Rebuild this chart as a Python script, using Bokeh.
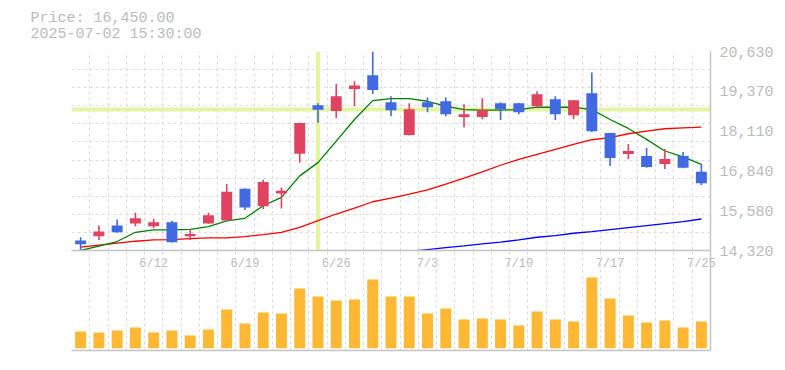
import numpy as np
from bokeh.plotting import figure
from bokeh.layouts import column
from bokeh.models import (Range1d, FixedTicker, NumeralTickFormatter,
                          Span, Title, ColumnDataSource)
from bokeh.embed import file_html
from bokeh.resources import INLINE

# ---------------- data ----------------
dates = ["6/6", "6/9", "6/10", "6/11", "6/12", "6/13", "6/16", "6/17", "6/18", "6/19",
         "6/20", "6/23", "6/24", "6/25", "6/26", "6/27", "6/30", "7/1", "7/2", "7/3",
         "7/4", "7/7", "7/8", "7/9", "7/10", "7/11", "7/14", "7/15", "7/16", "7/17",
         "7/18", "7/22", "7/23", "7/24", "7/25"]

open_ = [14635, 14770, 15110, 15180, 15085, 15215, 14770, 15180, 15275, 16275,
         15720, 16130, 17390, 18925, 18745, 19440, 19875, 19020, 17980, 19020,
         19050, 18550, 18550, 18990, 18990, 18895, 19115, 18610, 19305, 18045,
         17380, 17315, 17065, 17315, 16815]
high = [14740, 15110, 15300, 15520, 15330, 15265, 14995, 15520, 16425, 16290,
        16560, 16320, 18370, 18990, 19600, 19685, 20630, 19210, 18990, 19175,
        19175, 18960, 19145, 19020, 19000, 19370, 19210, 19095, 19965, 18050,
        17695, 17570, 17540, 17445, 17065]
low = [14320, 14655, 14880, 15085, 15025, 14570, 14655, 15170, 15265, 15605,
       15635, 15655, 17105, 18370, 18525, 18895, 19285, 18580, 17970, 18705,
       18580, 18230, 18485, 18455, 18640, 18830, 18455, 18485, 18075, 17000,
       17225, 16940, 16905, 16925, 16400]
close = [14520, 14920, 14900, 15340, 15215, 14585, 14845, 15435, 16180, 15685,
         16495, 16215, 18360, 18780, 19210, 19555, 19410, 18770, 18800, 18865,
         18640, 18640, 18770, 18800, 18705, 19275, 18640, 19085, 18105, 17255,
         17475, 16970, 17225, 16940, 16450]
volume = [167, 157, 177, 207, 157, 177, 127, 187, 387, 247,
          357, 347, 597, 517, 477, 487, 687, 517, 517, 347,
          397, 287, 297, 287, 227, 367, 287, 267, 707, 497,
          327, 257, 277, 207, 267]

ma_short = [14320, 14456, 14604, 14898, 14972, 14972, 14993, 15077, 15256, 15340,
            15740, 16003, 16686, 17107, 17790, 18474, 19073, 19137, 19137, 19052,
            18895, 18789, 18768, 18768, 18789, 18863, 18863, 18863, 18789, 18474,
            18190, 17843, 17475, 17286, 17054]
ma_mid = [14425, 14488, 14551, 14614, 14656, 14667, 14698, 14719, 14719, 14761,
          14825, 14898, 15056, 15266, 15477, 15666, 15866, 15981, 16108, 16244,
          16423, 16612, 16812, 17023, 17212, 17370, 17527, 17685, 17832, 17896,
          18022, 18106, 18180, 18211, 18232]
ma_long = [np.nan] * 18 + [14288, 14351, 14414, 14467, 14530, 14583, 14656, 14740,
                           14793, 14867, 14919, 14982, 15045, 15109, 15172, 15235, 15319]

tick_dates = ["6/12", "6/19", "6/26", "7/3", "7/10", "7/17", "7/25"]
y_ticks = [14320, 15580, 16840, 18110, 19370, 20630]

header_time = "2025-07-02 15:30:00"
cross_date = "6/25"
cross_price = 18789

# ---------------- styling / layout ----------------
RED = "#e0435f"
BLUE = "#4169e1"
VOL = "#ffb833"
GRAY_TXT = "#bbbbbb"
AXIS = "#c4c4c4"
GRID = "#dcdcdc"
CROSS = "#e4f4a2"
FONT = "Liberation Mono"

W = 777
B_LEFT, B_RIGHT = 71, 67
A_TOP, A_FRAME, A_BOTTOM = 50, 200, 25       # price figure
B_FRAME, B_BOTTOM = 100, 12                  # volume figure (overlaps label strip)
OVERLAP = A_BOTTOM

p_lo, p_hi = min(low), max(high)
vol_gap_px = 2.3
vpx = 10.0
v_start = -vol_gap_px * vpx
v_end = v_start + B_FRAME * vpx

x = list(range(len(dates)))
up = [c >= o for o, c in zip(open_, close)]
colors = [RED if u else BLUE for u in up]
src = ColumnDataSource(dict(
    x=x, open=open_, high=high, low=low, close=close, vol=volume,
    top=[max(o, c) for o, c in zip(open_, close)],
    bottom=[min(o, c) for o, c in zip(open_, close)],
    color=colors))
xr = Range1d(-0.5, len(dates) - 0.5)
boundaries = [i - 0.5 for i in range(len(dates) + 1)]

# ======== price figure ========
p = figure(width=W, height=A_TOP + A_FRAME + A_BOTTOM, output_backend="svg",
           toolbar_location=None, x_range=xr, y_range=Range1d(p_lo, p_hi),
           y_axis_location="right", min_border_left=B_LEFT, min_border_right=B_RIGHT,
           min_border_top=A_TOP, min_border_bottom=A_BOTTOM)
p.outline_line_color = None

p.xgrid.ticker = FixedTicker(ticks=boundaries)
p.xgrid.grid_line_color = GRID
p.xgrid.grid_line_dash = "3 3"
p.ygrid.ticker = FixedTicker(ticks=list(np.linspace(p_lo, p_hi, 12)))
p.ygrid.grid_line_color = GRID
p.ygrid.grid_line_dash = "3 3"

xa = p.xaxis[0]
xa.ticker = FixedTicker(ticks=[dates.index(d) for d in tick_dates])
xa.major_label_overrides = {dates.index(d): d for d in tick_dates}
xa.axis_line_color = AXIS
xa.axis_line_width = 1.5
xa.major_tick_line_color = None
xa.minor_tick_line_color = None
xa.major_tick_out = 0
xa.major_tick_in = 0
xa.major_label_standoff = 6
xa.major_label_text_font = FONT
xa.major_label_text_font_size = "12px"
xa.major_label_text_color = GRAY_TXT

ya = p.yaxis[0]
ya.ticker = FixedTicker(ticks=y_ticks)
ya.formatter = NumeralTickFormatter(format="0,0")
ya.major_tick_line_color = None
ya.minor_tick_line_color = None
ya.major_tick_out = 0
ya.major_tick_in = 0
ya.major_label_standoff = 9
ya.axis_line_color = AXIS
ya.axis_line_width = 1.5
ya.major_label_text_font = FONT
ya.major_label_text_font_size = "15px"
ya.major_label_text_color = GRAY_TXT

cx = dates.index(cross_date)
p.add_layout(Span(location=cross_price, dimension="width", line_color=CROSS,
                  line_width=4, level="underlay"))
p.add_layout(Span(location=cx, dimension="height", line_color=CROSS,
                  line_width=4, level="underlay"))

p.line(x, ma_long, line_color="#0000ff", line_width=1.3)
p.line(x, ma_mid, line_color="#ff0000", line_width=1.3)
p.line(x, ma_short, line_color="#008000", line_width=1.3)

p.segment(x0="x", y0="low", x1="x", y1="high", line_color="color", line_width=1.6, source=src)
p.vbar(x="x", top="top", bottom="bottom", width=0.6, source=src,
       fill_color="color", line_color=None)

p.title.text = ""
header = Title(text=f"Price: {close[-1]:,.2f}\n{header_time}", align="left",
               offset=30 - B_LEFT, standoff=16, text_line_height=0.97,
               text_font=FONT, text_font_size="15px", text_color=GRAY_TXT,
               text_font_style="normal")
p.add_layout(header, "above")

# ======== volume figure ========
v = figure(width=W, height=B_FRAME + B_BOTTOM, output_backend="svg",
           toolbar_location=None, x_range=xr, y_range=Range1d(v_start, v_end),
           y_axis_location="right", min_border_left=B_LEFT, min_border_right=B_RIGHT,
           min_border_top=0, min_border_bottom=B_BOTTOM)
v.outline_line_color = None
v.background_fill_alpha = 0
v.border_fill_alpha = 0
v.margin = (-OVERLAP, 0, 0, 0)
v.xgrid.ticker = FixedTicker(ticks=boundaries)
v.xgrid.grid_line_color = GRID
v.xgrid.grid_line_dash = "3 3"
v.ygrid.grid_line_color = None
for ax in (v.xaxis[0], v.yaxis[0]):
    ax.ticker = FixedTicker(ticks=[])
    ax.major_tick_line_color = None
    ax.minor_tick_line_color = None
    ax.axis_line_color = AXIS
    ax.axis_line_width = 1.5

v.vbar(x="x", top="vol", bottom=0, width=0.6, source=src, fill_color=VOL, line_color=None)

layout = column(p, v, spacing=0)
open("out.html", "w").write(file_html(layout, INLINE))
